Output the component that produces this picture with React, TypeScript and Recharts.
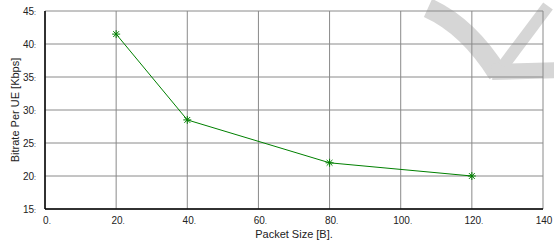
import { LineChart, Line, XAxis, YAxis, CartesianGrid } from "recharts";

const packetSizes = [20, 40, 80, 120];
const bitrates = [41.5, 28.5, 22, 20];
const xTicks = [0, 20, 40, 60, 80, 100, 120, 140];
const yTicks = [15, 20, 25, 30, 35, 40, 45];

const data = packetSizes.map((size, i) => ({ size, rate: bitrates[i] }));

const FONT = "'Liberation Sans', Arial, sans-serif";

function Asterisk(props: any) {
  const { cx, cy } = props;
  if (cx == null || cy == null) return null;
  const r = 4;
  const d = 2.9;
  return (
    <g stroke="#008000" strokeWidth={1}>
      <line x1={cx - r} y1={cy} x2={cx + r} y2={cy} />
      <line x1={cx} y1={cy - r} x2={cx} y2={cy + r} />
      <line x1={cx - d} y1={cy - d} x2={cx + d} y2={cy + d} />
      <line x1={cx - d} y1={cy + d} x2={cx + d} y2={cy - d} />
    </g>
  );
}

function XTick(props: any) {
  const { x, y, payload } = props;
  const last = payload.value === 140;
  return (
    <text x={x + 2} y={y + 7} textAnchor="middle" fontSize={10} fill="#222" fontFamily={FONT}>
      {payload.value}
      {!last && <tspan fontSize={8}>.</tspan>}
    </text>
  );
}

function YTick(props: any) {
  const { x, y, payload } = props;
  return (
    <text x={x - 1} y={y + 3.5} textAnchor="end" fontSize={10} fill="#222" fontFamily={FONT}>
      {payload.value}
      <tspan fontSize={7}>:</tspan>
    </text>
  );
}

export default function App() {
  return (
    <div style={{ position: "absolute", left: 0, top: 0, width: 554, height: 244, background: "#fff" }}>
      <svg width={554} height={244} style={{ position: "absolute", left: 0, top: 0 }}>
        <g fill="none" stroke="#d6d6d6" strokeLinecap="butt">
          <path d="M 428 8 Q 468 26 498 74" strokeWidth={20} />
          <path d="M 492 72 L 560 70" strokeWidth={16} />
          <path d="M 503 66 L 548 6" strokeWidth={12} />
        </g>
      </svg>
      <div style={{ position: "absolute", left: 0, top: 0 }}>
        <LineChart
          width={554}
          height={244}
          data={data}
          margin={{ top: 11, right: 11, left: 15, bottom: 0 }}
        >
          <CartesianGrid stroke="#8a8a8a" strokeWidth={1} />
          <XAxis
            dataKey="size"
            type="number"
            domain={[0, 140]}
            ticks={xTicks}
            tick={<XTick />}
            tickLine={false}
            axisLine={{ stroke: "#000", strokeWidth: 1.5 }}
            height={35}
            label={{
              value: "Packet Size [B].",
              position: "insideBottom",
              offset: 6,
              fontSize: 11,
              fill: "#222",
              fontFamily: FONT,
            }}
          />
          <XAxis
            xAxisId="top"
            orientation="top"
            dataKey="size"
            type="number"
            domain={[0, 140]}
            tick={false}
            tickLine={false}
            height={0}
            axisLine={{ stroke: "#000", strokeWidth: 1.5 }}
          />
          <YAxis
            type="number"
            domain={[15, 45]}
            ticks={yTicks}
            tick={<YTick />}
            tickLine={false}
            width={30}
            axisLine={{ stroke: "#000", strokeWidth: 1.5 }}
            label={{
              value: "Bitrate Per UE [Kbps]",
              angle: -90,
              position: "insideLeft",
              offset: 0,
              style: { textAnchor: "middle" },
              fontSize: 11,
              fill: "#222",
              fontFamily: FONT,
            }}
          />
          <YAxis
            yAxisId="right"
            orientation="right"
            type="number"
            domain={[15, 45]}
            tick={false}
            tickLine={false}
            width={0}
            axisLine={{ stroke: "#000", strokeWidth: 1.5 }}
          />
          <Line
            dataKey="rate"
            stroke="#008000"
            strokeWidth={1}
            dot={<Asterisk />}
            activeDot={false}
            isAnimationActive={false}
          />
        </LineChart>
      </div>
    </div>
  );
}
